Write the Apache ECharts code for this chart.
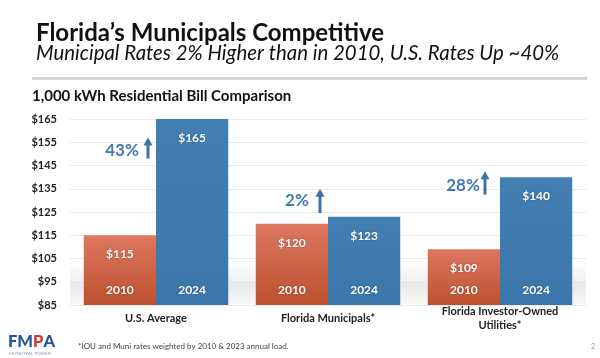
<!DOCTYPE html>
<html><head><meta charset="utf-8">
<script src="https://cdn.jsdelivr.net/npm/echarts@6/dist/echarts.min.js"></script>
<style>html,body{margin:0;padding:0;background:#fff}#c{width:600px;height:358px}</style>
</head><body><div id="c"></div>
<script>
var categories = ['U.S. Average', 'Florida Municipals*', 'Florida Investor-Owned\nUtilities*'];
var values2010 = [115, 120, 109];
var values2024 = [165, 123, 140];
var yearLabels = ['2010', '2024'];
var yTicks = [85, 95, 105, 115, 125, 135, 145, 155, 165];
var changeLabels = ['43%', '2%', '28%'];
var changeLevels = [151.5, 130, 136.5];

var FONT = 'Lato, "Open Sans", sans-serif';
var chart = echarts.init(document.getElementById('c'), null, {renderer: 'canvas'});

var valueLabel = {show: true, position: 'insideTop', distance: 13, fontFamily: FONT, fontWeight: 'bold',
  fontSize: 12, color: '#fff', textShadowColor: 'rgba(0,0,0,0.35)', textShadowBlur: 2,
  formatter: function (p) { return '$' + p.value; }};

function yearLabel(idx) {
  return {show: true, position: 'insideBottom', distance: 9, fontFamily: FONT, fontWeight: 'bold',
    fontSize: 12, color: '#fff', textShadowColor: 'rgba(0,0,0,0.35)', textShadowBlur: 2,
    formatter: function () { return yearLabels[idx]; }};
}

var option = {
  animation: false,
  grid: {left: 70, right: 14, top: 119, bottom: 53},
  xAxis: [{
    type: 'category', data: categories,
    axisLine: {show: false}, axisTick: {show: false},
    axisLabel: {fontFamily: FONT, fontWeight: 'bold', fontSize: 11, color: '#222',
      lineHeight: 14, margin: 13, verticalAlign: 'middle', interval: 0}
  }, {
    type: 'category', data: categories, show: false
  }],
  yAxis: {
    type: 'value', min: yTicks[0], max: yTicks[yTicks.length - 1], interval: 10,
    axisLine: {show: false}, axisTick: {show: false},
    splitLine: {lineStyle: {color: '#ececec', width: 1}},
    axisLabel: {fontFamily: FONT, fontWeight: 'bold', fontSize: 11, color: '#222', margin: 13,
      formatter: function (v) { return '$' + v; }}
  },
  series: [{
    name: yearLabels[0], type: 'bar', xAxisIndex: 0, data: values2010,
    barGap: '0%', barCategoryGap: '16%', z: 3,
    itemStyle: {color: new echarts.graphic.LinearGradient(0, 0, 0, 1, [
      {offset: 0, color: '#dd7760'}, {offset: 1, color: '#bd512f'}])},
    label: valueLabel
  }, {
    name: yearLabels[1], type: 'bar', xAxisIndex: 0, data: values2024,
    barGap: '0%', barCategoryGap: '16%', z: 3,
    itemStyle: {color: new echarts.graphic.LinearGradient(0, 0, 0, 1, [
      {offset: 0, color: '#437fb2'}, {offset: 1, color: '#3b77aa'}])},
    label: valueLabel
  }, {
    name: yearLabels[0] + ' label', type: 'bar', xAxisIndex: 1, data: values2010,
    barGap: '0%', barCategoryGap: '16%', silent: true, z: 4,
    itemStyle: {color: 'rgba(0,0,0,0)'},
    label: yearLabel(0)
  }, {
    name: yearLabels[1] + ' label', type: 'bar', xAxisIndex: 1, data: values2024,
    barGap: '0%', barCategoryGap: '16%', silent: true, z: 4,
    itemStyle: {color: 'rgba(0,0,0,0)'},
    label: yearLabel(1)
  }]
};
chart.setOption(option);

var graphics = [
  {type: 'rect', z: 1, shape: {x: 70, y: 262, width: 516, height: 42},
    style: {fill: new echarts.graphic.LinearGradient(0, 0, 0, 1, [
      {offset: 0, color: 'rgba(220,220,220,0)'}, {offset: 0.6, color: 'rgba(220,220,220,0.6)'},
      {offset: 1, color: 'rgba(235,235,235,0.4)'}])}},
  {type: 'text', left: 36, top: 21, style: {text: 'Florida\u2019s Municipals Competitive', fontFamily: FONT,
    fontWeight: 'bold', fontSize: 24, fill: '#111'}},
  {type: 'text', left: 36, top: 43, style: {text: 'Municipal Rates 2% Higher than in 2010, U.S. Rates Up ~40%',
    fontFamily: FONT, fontStyle: 'italic', fontSize: 20.4, fill: '#111'}},
  {type: 'rect', shape: {x: 32, y: 77, width: 555, height: 3}, style: {fill: '#d3d3d3'}},
  {type: 'text', left: 32, top: 89, style: {text: '1,000 kWh Residential Bill Comparison', fontFamily: FONT,
    fontWeight: 'bold', fontSize: 15, fill: '#111'}},
  {type: 'text', left: 78, top: 342, style: {text: '*IOU and Muni rates weighted by 2010 & 2023 annual load.',
    fontFamily: FONT, fontSize: 8, fill: '#444'}},
  {type: 'text', left: 8, top: 333, style: {text: '{b|FM}{r|P}{b|A}', fontFamily: FONT,
    rich: {b: {fontFamily: FONT, fontWeight: 900, fontSize: 16.5, fill: '#23559f'},
           r: {fontFamily: FONT, fontWeight: 900, fontSize: 16.5, fill: '#d0392c'}}}},
  {type: 'text', left: 9, top: 351, style: {text: 'MUNICIPAL POWER', fontFamily: FONT, fontSize: 4.5, fill: '#8aa0c0'}},
  {type: 'text', left: 591, top: 343, style: {text: '2', fontFamily: FONT, fontSize: 7, fill: '#999'}}
];

var textOffsets = [-34, -31, -37];
var arrowOffsets = [-8, -8, -15];
var arrowTops = [157, 135, 142.5];
var arrowBottoms = [148, 124.5, 132.5];
for (var i = 0; i < categories.length; i++) {
  var pc = chart.convertToPixel({xAxisIndex: 0, yAxisIndex: 0}, [i, changeLevels[i]]);
  graphics.push({type: 'text', x: pc[0] + textOffsets[i], y: pc[1], z: 100,
    style: {text: changeLabels[i], fontFamily: FONT, fontWeight: 'bold', fontSize: 17, fill: '#4677ad',
      textAlign: 'center', textVerticalAlign: 'middle'}});
  var pTop = chart.convertToPixel({xAxisIndex: 0, yAxisIndex: 0}, [i, arrowTops[i]]);
  var pBot = chart.convertToPixel({xAxisIndex: 0, yAxisIndex: 0}, [i, arrowBottoms[i]]);
  var ax = pTop[0] + arrowOffsets[i];
  var ty = pTop[1], by = pBot[1];
  graphics.push({type: 'rect', z: 100, shape: {x: ax - 1.5, y: ty + 6, width: 3, height: by - ty - 6},
    style: {fill: '#3f72a8'}});
  graphics.push({type: 'polygon', z: 101,
    shape: {points: [[ax, ty], [ax + 4.5, ty + 8], [ax - 4.5, ty + 8]]},
    style: {fill: '#3f72a8'}});
}
chart.setOption({graphic: graphics});
</script></body></html>
